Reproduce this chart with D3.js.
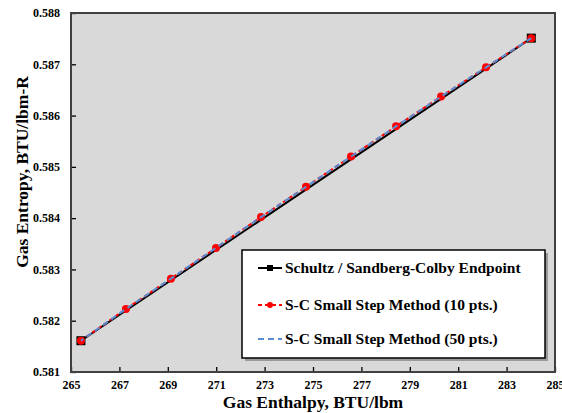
<!DOCTYPE html>
<html>
<head>
<meta charset="utf-8">
<script src="https://cdn.jsdelivr.net/npm/d3@7"></script>
<style>
  body { margin: 0; background: #fff; }
  text { font-family: "Liberation Serif", "Times New Roman", serif; font-weight: bold; }
</style>
</head>
<body>
<script>
// endpoint method (2 points)
var endX = [265.41, 284.02];
var endY = [0.58161, 0.58751];

// small step method, 10 steps
var step10X = [265.41, 267.27, 269.13, 270.99, 272.85, 274.71, 276.57, 278.43, 280.29, 282.15, 284.02];
var step10Y = [0.58161, 0.58223, 0.58282, 0.58342, 0.58402, 0.58461, 0.58520, 0.58579, 0.58637, 0.58694, 0.58751];

// small step method, 50 steps (read at the same spots, curve is on top of the 10-pt one)
var step50X = [265.41, 267.27, 269.13, 270.99, 272.85, 274.71, 276.57, 278.43, 280.29, 282.15, 284.02];
var step50Y = [0.58161, 0.58223, 0.58282, 0.58342, 0.58402, 0.58461, 0.58520, 0.58579, 0.58637, 0.58694, 0.58751];

var xTicks = [265, 267, 269, 271, 273, 275, 277, 279, 281, 283, 285];
var yTicks = [0.581, 0.582, 0.583, 0.584, 0.585, 0.586, 0.587, 0.588];

var legendNames = ["Schultz / Sandberg-Colby Endpoint", "S-C Small Step Method (10 pts.)", "S-C Small Step Method (50 pts.)"];

var W = 562, H = 413;
var margin = {top: 13, right: 7, bottom: 41, left: 71},
  width = W - margin.left - margin.right,
  height = H - margin.top - margin.bottom;

var svg = d3.select("body").append("svg")
  .attr("width", W)
  .attr("height", H);

var g = svg.append("g")
  .attr("transform", "translate(" + margin.left + "," + margin.top + ")");

var x = d3.scaleLinear().domain([265, 285]).range([0, width]);
var y = d3.scaleLinear().domain([0.581, 0.588]).range([height, 0]);

g.append("rect")
  .attr("width", width)
  .attr("height", height)
  .attr("fill", "#d9d9d9");

// axes, ticks pointing inward
var xAxis = d3.axisBottom(x).tickValues(xTicks).tickSize(-5).tickPadding(8).tickFormat(d3.format("d"));
var yAxis = d3.axisLeft(y).tickValues(yTicks).tickSize(-5).tickPadding(11).tickFormat(d3.format(".3f"));

var gx = g.append("g").attr("transform", "translate(0," + height + ")").call(xAxis);
var gy = g.append("g").call(yAxis);

[gx, gy].forEach(function(a) {
  a.select(".domain").remove();
  a.selectAll(".tick line").attr("stroke", "#000").attr("stroke-width", 1.3);
  a.selectAll(".tick text").attr("font-size", "12px").attr("fill", "#000")
    .style("font-family", "'Liberation Serif', serif").style("font-weight", "bold");
});

function toPts(xs, ys) {
  return xs.map(function(v, i) { return {x: v, y: ys[i]}; });
}

var line = d3.line()
  .x(function(d) { return x(d.x); })
  .y(function(d) { return y(d.y); });

var endData = toPts(endX, endY);
var s10 = toPts(step10X, step10Y);
var s50 = toPts(step50X, step50Y);

g.append("path")
  .attr("d", line(endData))
  .attr("stroke", "#000")
  .attr("stroke-width", 2)
  .attr("fill", "none");

g.selectAll(".sq").data(endData).enter().append("rect")
  .attr("class", "sq")
  .attr("x", function(d) { return x(d.x) - 4.5; })
  .attr("y", function(d) { return y(d.y) - 4.5; })
  .attr("width", 9)
  .attr("height", 9)
  .attr("fill", "#000");

g.append("path")
  .attr("d", line(s10))
  .attr("stroke", "#ff0000")
  .attr("stroke-width", 2)
  .attr("stroke-dasharray", "4,3")
  .attr("fill", "none");

g.selectAll(".dot").data(s10).enter().append("circle")
  .attr("class", "dot")
  .attr("cx", function(d) { return x(d.x); })
  .attr("cy", function(d) { return y(d.y); })
  .attr("r", 4)
  .attr("fill", "#ff0000");

g.append("path")
  .attr("d", line(s50))
  .attr("stroke", "#5b8bd0")
  .attr("stroke-width", 2)
  .attr("stroke-dasharray", "6,4")
  .attr("stroke-dashoffset", 3)
  .attr("fill", "none");

// plot frame
g.append("rect")
  .attr("width", width)
  .attr("height", height)
  .attr("fill", "none")
  .attr("stroke", "#404040")
  .attr("stroke-width", 2);

// legend
var lg = svg.append("g").attr("transform", "translate(242,250)");
lg.append("rect").attr("x", 3).attr("y", 3).attr("width", 303).attr("height", 108).attr("fill", "#9a9a9a");
lg.append("rect").attr("width", 303).attr("height", 108).attr("fill", "#fff").attr("stroke", "#000").attr("stroke-width", 1.5);

var rows = [18, 55, 89];
legendNames.forEach(function(name, i) {
  var r = lg.append("g").attr("transform", "translate(0," + rows[i] + ")");
  if (i == 0) {
    r.append("line").attr("x1", 16).attr("x2", 40).attr("stroke", "#000").attr("stroke-width", 2);
    r.append("rect").attr("x", 25).attr("y", -3).attr("width", 6).attr("height", 6).attr("fill", "#000");
  } else if (i == 1) {
    r.append("line").attr("x1", 16).attr("x2", 40).attr("stroke", "#ff0000").attr("stroke-width", 2).attr("stroke-dasharray", "4,3");
    r.append("circle").attr("cx", 28).attr("r", 3).attr("fill", "#ff0000");
  } else {
    r.append("line").attr("x1", 16).attr("x2", 40).attr("stroke", "#5b8bd0").attr("stroke-width", 2).attr("stroke-dasharray", "6,4");
  }
  r.append("text").attr("x", 43).attr("y", 5)
    .attr("font-size", "15.5px")
    .text(name);
});

// axis titles
svg.append("text")
  .attr("x", margin.left + width / 2)
  .attr("y", 408)
  .attr("text-anchor", "middle")
  .attr("font-size", "17.5px")
  .text("Gas Enthalpy, BTU/lbm");

svg.append("text")
  .attr("transform", "translate(28,172) rotate(-90)")
  .attr("text-anchor", "middle")
  .attr("font-size", "17.5px")
  .text("Gas Entropy, BTU/lbm-R");
</script>
</body>
</html>
